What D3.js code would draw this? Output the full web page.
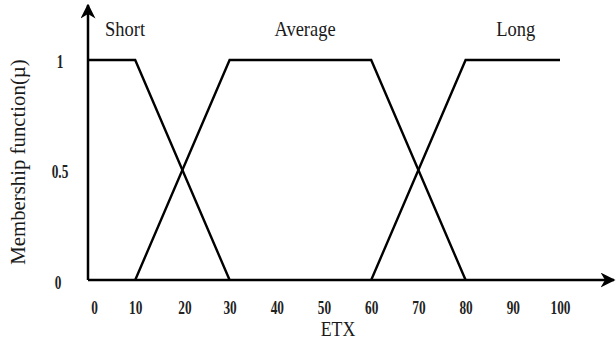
<!DOCTYPE html>
<html>
<head>
<meta charset="utf-8">
<script src="https://cdn.jsdelivr.net/npm/d3@7"></script>
<style>
  html, body { margin: 0; padding: 0; background: #fff; }
  svg { display: block; }
  text { font-family: "Liberation Serif", "Times New Roman", serif; fill: #1a1a1a; }
</style>
</head>
<body>
<svg id="chart" width="616" height="357"></svg>
<script>
// Fuzzy membership functions for ETX
const setNames = ["Short", "Average", "Long"];
const shortPts = [[0, 1], [10, 1], [30, 0]];
const averagePts = [[10, 0], [30, 1], [60, 1], [80, 0]];
const longPts = [[60, 0], [80, 1], [100, 1]];
const labelAt = [[3.6, 1.11], [39.5, 1.11], [86.5, 1.11]];
const xTicks = [0, 10, 20, 30, 40, 50, 60, 70, 80, 90, 100];
const yTicks = [0, 0.5, 1];

const svg = d3.select("#chart");
const x = d3.scaleLinear().domain([0, 100]).range([88, 560]);
const y = d3.scaleLinear().domain([0, 1]).range([280, 60]);

// arrowhead marker for the axes
svg.append("defs").append("marker")
  .attr("id", "arrow")
  .attr("viewBox", "0 0 10 10")
  .attr("refX", 9).attr("refY", 5)
  .attr("markerWidth", 6).attr("markerHeight", 6)
  .attr("markerUnits", "strokeWidth")
  .attr("orient", "auto")
  .append("path").attr("d", "M0,0 L10,5 L0,10 L3,5 Z").attr("fill", "#000");

// axes
svg.append("line")
  .attr("x1", x(0)).attr("y1", y(0)).attr("x2", 614).attr("y2", y(0))
  .attr("stroke", "#000").attr("stroke-width", 2.5).attr("marker-end", "url(#arrow)");
svg.append("line")
  .attr("x1", x(0)).attr("y1", y(0)).attr("x2", x(0)).attr("y2", 5)
  .attr("stroke", "#000").attr("stroke-width", 2.5).attr("marker-end", "url(#arrow)");

// membership curves
const line = d3.line().x(d => x(d[0])).y(d => y(d[1]));
[shortPts, averagePts, longPts].forEach(pts => {
  svg.append("path").attr("d", line(pts))
    .attr("fill", "none").attr("stroke", "#000")
    .attr("stroke-width", 2.4).attr("stroke-linejoin", "miter");
});

// set names
setNames.forEach((name, i) => {
  svg.append("text")
    .attr("transform", `translate(${x(labelAt[i][0])},${y(labelAt[i][1])}) scale(0.88,1)`)
    .attr("font-size", 21).text(name);
});

// tick labels: narrow bold digits
const tickText = (sel) => sel
  .attr("font-size", 18.5).attr("font-weight", "bold")
  .style("font-family", "'Liberation Serif', serif").style("fill", "#222");

const xAxis = d3.axisBottom(x).tickValues(xTicks).tickSize(0).tickPadding(0);
const gx = svg.append("g").attr("transform", `translate(0,${y(0)})`).call(xAxis);
gx.select(".domain").remove();
gx.selectAll("text")
  .attr("dy", null).attr("y", null)
  .attr("transform", d => `translate(${d === 0 ? 6 : (d === 20 ? 2 : 0)},34) scale(0.72,1)`)
  .call(tickText);

const yAxis = d3.axisLeft(y).tickValues(yTicks).tickSize(0).tickPadding(0)
  .tickFormat(d => d === 0.5 ? "0.5" : String(d));
const gy = svg.append("g").attr("transform", "translate(60,0)").call(yAxis);
gy.select(".domain").remove();
gy.selectAll("text")
  .attr("x", null).attr("dy", null)
  .attr("text-anchor", "middle")
  .attr("transform", d => `translate(${d === 0 ? -2 : 0},${d === 0 ? 8.5 : 7}) scale(0.72,1)`)
  .call(tickText);

// axis titles
svg.append("text")
  .attr("transform", "translate(338,336) scale(0.85,1)")
  .attr("text-anchor", "middle")
  .attr("font-size", 21).text("ETX");
svg.append("text")
  .attr("transform", "translate(25,162) rotate(-90)")
  .attr("text-anchor", "middle")
  .attr("font-size", 20.8).text("Membership function(µ)");
</script>
</body>
</html>
